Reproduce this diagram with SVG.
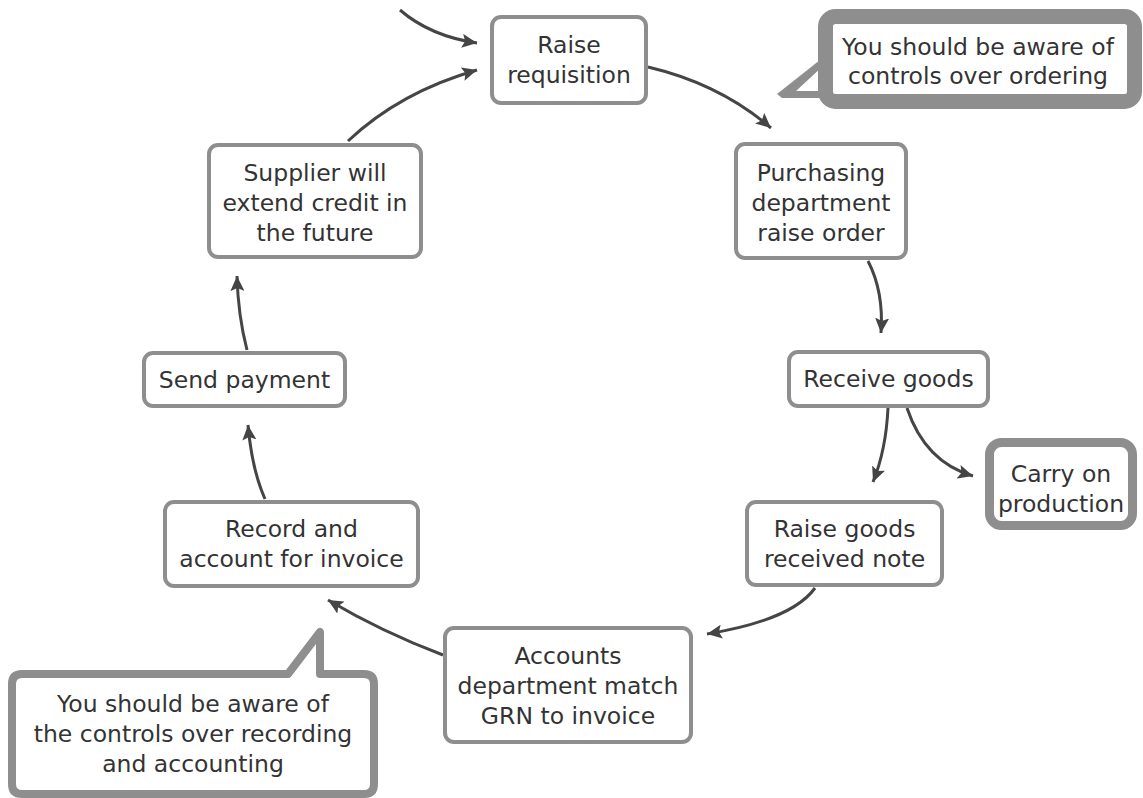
<svg xmlns="http://www.w3.org/2000/svg" width="1143" height="798" viewBox="0 0 1143 798">
  <style>
    .box { fill: #ffffff; stroke: #8e8e8e; stroke-width: 4; }
    .thick { fill: #ffffff; stroke: #8e8e8e; stroke-width: 9; }
    .label { font-family: "DejaVu Sans", Verdana, sans-serif; font-size: 23.5px; fill: #333333; text-anchor: middle; }
    .edge { fill: none; stroke: #454545; stroke-width: 3; marker-end: url(#arrow); }
  </style>
  <defs>
    <marker id="arrow" markerUnits="userSpaceOnUse" markerWidth="16" markerHeight="14" refX="15" refY="7" orient="auto">
      <path d="M0,0 L15,7 L0,14 L3,7 Z" fill="#454545"/>
    </marker>
  </defs>
  <rect width="1143" height="798" fill="#ffffff"/>

  <!-- connectors -->
  <g id="connectors">
    <path class="edge" d="M400,10 Q430,36 477,43"/>
    <path class="edge" d="M348,141 Q400,92 477,70"/>
    <path class="edge" d="M648,67 Q720,84 771,128"/>
    <path class="edge" d="M868,261 Q884,292 881,333"/>
    <path class="edge" d="M888,408 Q886,450 873,482"/>
    <path class="edge" d="M907,408 Q925,462 973,476"/>
    <path class="edge" d="M815,588 Q792,620 707,634"/>
    <path class="edge" d="M443,655 Q382,632 328,600"/>
    <path class="edge" d="M265,499 Q252,470 248,425"/>
    <path class="edge" d="M247,350 Q238,315 237,276"/>
  </g>

  <!-- process steps -->
  <g id="raise-requisition">
    <rect class="box" x="492" y="17" width="154" height="86" rx="9"/>
    <text class="label" x="569" y="53">Raise</text>
    <text class="label" x="569" y="83">requisition</text>
  </g>
  <g id="purchasing-order">
    <rect class="box" x="736" y="144" width="170" height="114" rx="9"/>
    <text class="label" x="821" y="181">Purchasing</text>
    <text class="label" x="821" y="211">department</text>
    <text class="label" x="821" y="241">raise order</text>
  </g>
  <g id="receive-goods">
    <rect class="box" x="789" y="352" width="199" height="54" rx="9"/>
    <text class="label" x="888.5" y="387">Receive goods</text>
  </g>
  <g id="carry-on-production">
    <rect class="thick" x="989.5" y="442.5" width="143" height="83" rx="12"/>
    <text class="label" x="1061" y="482">Carry on</text>
    <text class="label" x="1061" y="512">production</text>
  </g>
  <g id="goods-received-note">
    <rect class="box" x="747" y="502" width="195" height="83" rx="9"/>
    <text class="label" x="844.5" y="537">Raise goods</text>
    <text class="label" x="844.5" y="567">received note</text>
  </g>
  <g id="match-grn">
    <rect class="box" x="445" y="628" width="246" height="114" rx="9"/>
    <text class="label" x="568" y="664">Accounts</text>
    <text class="label" x="568" y="694">department match</text>
    <text class="label" x="568" y="724">GRN to invoice</text>
  </g>
  <g id="record-invoice">
    <rect class="box" x="165" y="502" width="253" height="84" rx="9"/>
    <text class="label" x="291.5" y="537">Record and</text>
    <text class="label" x="291.5" y="567">account for invoice</text>
  </g>
  <g id="send-payment">
    <rect class="box" x="144" y="353" width="201" height="53" rx="9"/>
    <text class="label" x="244.5" y="387.5">Send payment</text>
  </g>
  <g id="supplier-credit">
    <rect class="box" x="209" y="145" width="212" height="112" rx="9"/>
    <text class="label" x="315" y="181">Supplier will</text>
    <text class="label" x="315" y="211">extend credit in</text>
    <text class="label" x="315" y="241">the future</text>
  </g>

  <!-- callouts -->
  <g id="note-ordering">
    <polygon points="820,60 777,94 782,98 820,98" fill="#8e8e8e"/>
    <polygon points="823,66 796,91 826,91" fill="#ffffff"/>
    <rect x="825.5" y="16.5" width="309" height="85" rx="10" fill="#ffffff" stroke="#8e8e8e" stroke-width="15"/>
    <text class="label" x="978" y="55">You should be aware of</text>
    <text class="label" x="978" y="84">controls over ordering</text>
  </g>
  <g id="note-recording">
    <path d="M22,674 H288 L320,632 V674 H364 Q374,674 374,684 V784 Q374,794 364,794 H22 Q12,794 12,784 V684 Q12,674 22,674 Z" fill="#ffffff" stroke="#8e8e8e" stroke-width="8" stroke-linejoin="round"/>
    <text class="label" x="193" y="712">You should be aware of</text>
    <text class="label" x="193" y="742">the controls over recording</text>
    <text class="label" x="193" y="772">and accounting</text>
  </g>
</svg>
